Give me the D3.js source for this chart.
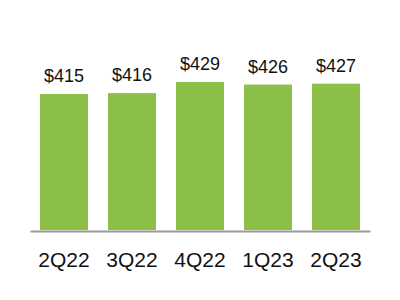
<!DOCTYPE html>
<html>
<head>
<meta charset="utf-8">
<script src="https://cdn.jsdelivr.net/npm/d3@7"></script>
<style>
  html, body { margin: 0; padding: 0; background: #fff; }
  svg { display: block; }
</style>
</head>
<body>
<div id="chart"></div>
<script>
var quarters = ['2Q22', '3Q22', '4Q22', '1Q23', '2Q23']
var values = [415, 416, 429, 426, 427]

var w = 400
var h = 300

var svg = d3.select('#chart').append('svg')
  .attr('width', w)
  .attr('height', h)

// bars are not zero based in the original, baseline sits near 256
var x = d3.scaleBand().domain(quarters).range([30, 370]).paddingInner(0.294).paddingOuter(0.147)
var y = d3.scaleLinear().domain([256, 429]).range([230, 82])

svg.selectAll('rect.bar')
  .data(values)
  .enter().append('rect')
  .attr('class', 'bar')
  .attr('x', function (d, i) { return x(quarters[i]) })
  .attr('y', function (d) { return y(d) })
  .attr('width', x.bandwidth())
  .attr('height', function (d) { return y.range()[0] - y(d) })
  .attr('fill', '#8bbf48')

svg.selectAll('text.val')
  .data(values)
  .enter().append('text')
  .attr('class', 'val')
  .attr('x', function (d, i) { return x(quarters[i]) + x.bandwidth() / 2 })
  .attr('y', function (d) { return y(d) - 12 })
  .attr('text-anchor', 'middle')
  .style('font-family', 'Liberation Sans, Arial, sans-serif')
  .style('font-size', '18px')
  .attr('fill', '#111')
  .text(function (d) { return '$' + d })

// axis line + category labels
var axis = svg.append('g').attr('transform', 'translate(0,231)')
  .call(d3.axisBottom(x).tickSize(0).tickPadding(0))
axis.select('.domain').attr('stroke', '#9a9a9a').attr('stroke-width', 2)
axis.selectAll('text')
  .attr('y', 36)
  .attr('dy', 0)
  .style('font-family', 'Liberation Sans, Arial, sans-serif')
  .style('font-size', '21px')
  .attr('fill', '#111')
</script>
</body>
</html>
